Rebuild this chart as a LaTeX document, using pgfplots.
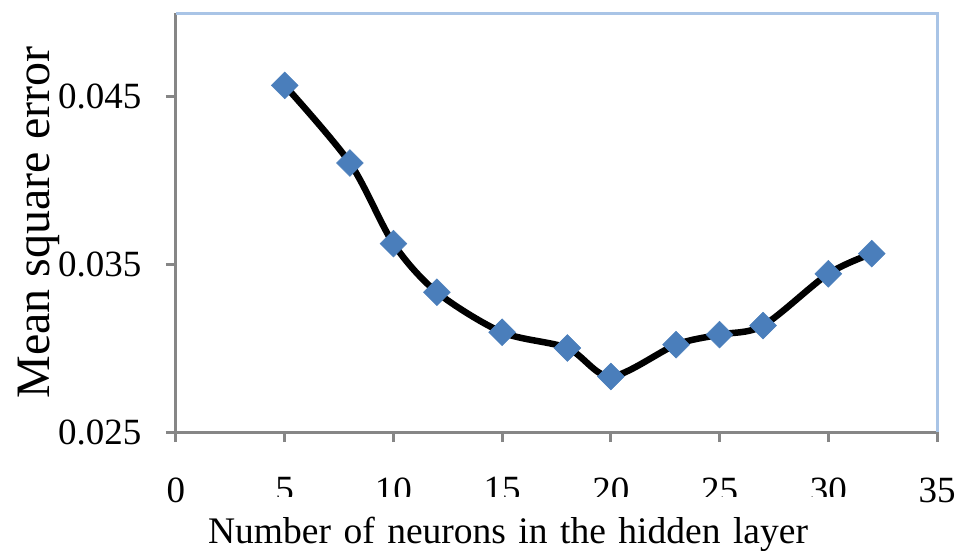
\documentclass[border=0pt]{standalone}
\usepackage{pgfplots}
\pgfplotsset{compat=1.18}
\usepackage{fontspec}
\setmainfont{Liberation Serif}

\definecolor{axisgray}{HTML}{868686}
\definecolor{frameblue}{HTML}{A9C4E6}
\definecolor{markblue}{HTML}{4A7EBB}

\pgfplotstableread{
n   mse
5   0.04568
8   0.04105
10  0.03624
12  0.03334
15  0.03095
18  0.03001
20  0.02831
23  0.03021
25  0.03081
27  0.03135
30  0.03444
32  0.03564
}\msedata

\begin{document}
\begin{tikzpicture}
\useasboundingbox (0pt,0pt) rectangle (959pt,550pt);
\begin{axis}[
  at={(176pt,118pt)}, anchor=south west,
  scale only axis,
  width=761pt, height=419pt,
  xmin=0, xmax=35, ymin=0.025, ymax=0.05,
  xtick={0,5,...,35},
  ytick={0.025,0.035,0.045},
  axis x line*=bottom, axis y line*=left,
  axis line style={-, draw=axisgray, line width=3pt},
  tick style={draw=axisgray, line width=3pt},
  tick align=outside,
  major tick length=10pt,
  /pgf/number format/assume math mode=true,
  yticklabel style={/pgf/number format/fixed, /pgf/number format/precision=3,
    /pgf/number format/fixed zerofill, font=\fontsize{37}{40}\selectfont, xshift=-21pt},
  xticklabel style={font=\fontsize{37}{40}\selectfont, yshift=-32pt},
  scaled y ticks=false,
  ylabel={Mean square error},
  ylabel style={at={(axis description cs:-0.1656,0.5)}, anchor=base, rotate=0,
    font=\fontsize{48}{52}\selectfont},
  xlabel={Number of neurons in the hidden layer},
  xlabel style={at={(axis description cs:0.042,-0.266)}, anchor=base west,
    font=\fontsize{37.5}{40}\selectfont, fill=white, inner sep=0pt,
    text height=46pt, text depth=12pt, text width=672pt, align=left},
  clip=false,
  after end axis/.code={
    \draw[frameblue, line width=3pt] (rel axis cs:0,1) -- (rel axis cs:1,1) -- (rel axis cs:1,0);
  },
]
\addplot[black, line width=6.5pt, smooth, tension=0.5,
  mark=square*, mark size=9.5pt,
  mark options={rotate=45, fill=markblue, draw=markblue, line width=0.5pt}]
  table[x=n, y=mse] {\msedata};
\end{axis}
\end{tikzpicture}
\end{document}
